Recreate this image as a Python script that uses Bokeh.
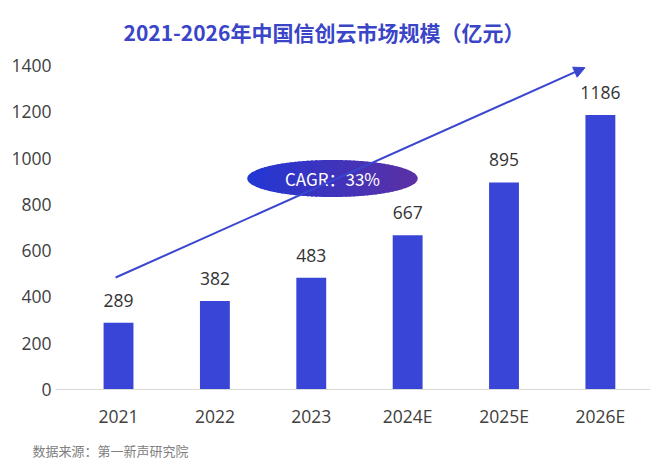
from bokeh.plotting import figure
from bokeh.models import (ColumnDataSource, FixedTicker, Title, Arrow, NormalHead, Range1d)
from bokeh.core.properties import value
from bokeh.embed import file_html
from bokeh.resources import INLINE
import numpy as np

# ---- data ----
categories = ["2021", "2022", "2023", "2024E", "2025E", "2026E"]
market_size = [289, 382, 483, 667, 895, 1186]
y_ticks = [0, 200, 400, 600, 800, 1000, 1200, 1400]
title_text = "2021-2026年中国信创云市场规模（亿元）"
cagr_text = "CAGR：33%"
source_text = "数据来源：第一新声研究院"

# decoration placement (data units)
arrow_start = (-0.03, 484)
arrow_end = (4.84, 1391)
badge_center = (2.22, 912)
badge_size = (1.77, 160)

BLUE = "#3845d6"
TEXT = "#404040"
FONT = "Noto Sans CJK SC"
NUM_FONT = "Open Sans"

x = list(range(len(categories)))
src = ColumnDataSource(dict(x=x, v=market_size, lab=[str(v) for v in market_size]))

p = figure(width=652, height=467, output_backend="svg", toolbar_location=None,
           x_range=Range1d(-0.654, 5.52), y_range=Range1d(0, 1422),
           min_border_left=55, min_border_right=2, min_border_top=60, min_border_bottom=78)
p.outline_line_color = None
p.grid.grid_line_color = None

p.title.text = title_text
p.title.align = "left"
p.title.offset = 68
p.title.standoff = 26
p.title.vertical_align = "middle"
p.title.text_font = FONT
p.title.text_font_size = "21px"
p.title.text_font_style = "bold"
p.title.text_color = "#3a45c8"

p.vbar(x="x", top="v", width=0.31, source=src, color=BLUE, line_color=None)
p.text(x="x", y="v", text="lab", source=src, text_align="center", text_baseline="bottom",
       y_offset=-16, text_font=value(NUM_FONT), text_font_size="17.5px", text_color="#333333")

# axes
p.xaxis.ticker = FixedTicker(ticks=x)
p.xaxis.major_label_overrides = {i: c for i, c in enumerate(categories)}
p.xaxis.axis_line_color = "#d9d9d9"
p.xaxis.major_tick_line_color = None
p.xaxis.minor_tick_line_color = None
p.xaxis.major_label_standoff = 8
p.xaxis.major_label_text_font = NUM_FONT
p.xaxis.major_label_text_font_size = "17.5px"
p.xaxis.major_label_text_color = TEXT

p.yaxis.ticker = FixedTicker(ticks=y_ticks)
p.yaxis.axis_line_color = None
p.yaxis.major_tick_line_color = None
p.yaxis.minor_tick_line_color = None
p.yaxis.major_label_standoff = -2
p.yaxis.major_label_text_font = NUM_FONT
p.yaxis.major_label_text_font_size = "17.5px"
p.yaxis.major_label_text_color = TEXT

# arrow
p.add_layout(Arrow(x_start=arrow_start[0], y_start=arrow_start[1], x_end=arrow_end[0], y_end=arrow_end[1],
                   line_color="#3a45d0", line_width=2,
                   end=NormalHead(size=11, fill_color="#3a45d0", line_color="#3a45d0")))

# gradient ellipse badge built from vertical slices
cx, cy = badge_center
a, b = badge_size[0] / 2, badge_size[1] / 2
N = 40
c0 = np.array([0x22, 0x37, 0xd4])
c1 = np.array([0x5c, 0x30, 0xa4])
xs_list, ys_list, cols = [], [], []
for i in range(N):
    t0 = -1 + 2 * i / N
    t1 = min(1.0, -1 + 2 * (i + 1) / N + (0.02 if i < N - 1 else 0))
    ts = np.linspace(t0, t1, 12)
    top = b * np.sqrt(np.clip(1 - ts ** 2, 0, None))
    px = np.concatenate([ts, ts[::-1]]) * a + cx
    py = np.concatenate([cy + top, (cy - top)[::-1]])
    xs_list.append(list(px)); ys_list.append(list(py))
    c = c0 + (c1 - c0) * (i + 0.5) / N
    cols.append("#%02x%02x%02x" % tuple(int(round(v)) for v in c))
p.patches(xs=xs_list, ys=ys_list, fill_color=cols, line_color=None)
p.text(x=[cx], y=[cy], text=[cagr_text], text_align="center", text_baseline="middle",
       text_font=value(FONT), text_font_size="17px", text_color="white")

# source note
p.add_layout(Title(text=source_text, align="left", offset=-23, standoff=16,
                   text_font=FONT, text_font_size="13px", text_font_style="normal",
                   text_color="#808080"), "below")

open("out.html", "w").write(file_html(p, INLINE))
